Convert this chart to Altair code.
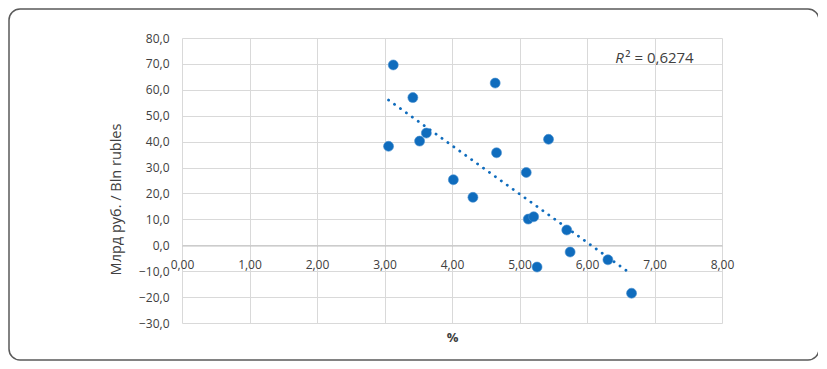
import altair as alt
import pandas as pd

# Scatter values (x = %, y = bln rubles)
x_pct = [3.13, 3.42, 3.06, 3.52, 3.62, 4.64, 4.66, 5.43, 4.02, 5.10,
         4.31, 5.13, 5.21, 5.70, 5.75, 5.26, 6.31, 6.66]
y_bln = [69.6, 57.0, 38.2, 40.2, 43.3, 62.6, 35.7, 40.9, 25.3, 28.1,
         18.5, 10.1, 11.0, 5.9, -2.6, -8.4, -5.6, -18.5]

x_ticks = [0, 1, 2, 3, 4, 5, 6, 7, 8]
y_ticks = [-30, -20, -10, 0, 10, 20, 30, 40, 50, 60, 70, 80]
r2_text = "² = 0,6274"

df = pd.DataFrame({"x": x_pct, "y": y_bln})

BLUE = "#0f6cbd"
FONT = "Open Sans"
TXT = "#404040"

xs = alt.Scale(domain=[0, 8], nice=False, zero=False)
ys = alt.Scale(domain=[-30, 80], nice=False, zero=False)

xaxis = alt.Axis(values=x_ticks, title="%", offset=-77.5,
                 labelExpr="replace(format(datum.value, '.2f'), '.', ',')",
                 labelOverlap=False, labelFlush=False,
                 ticks=False, tickSize=0, labelPadding=14,
                 domainColor="#bfbfbf", gridColor="#d9d9d9",
                 titleY=92, titleBaseline="middle",
                 titleFontWeight="bold", titleFontSize=13, titleFont=FONT,
                 titleColor=TXT)
yaxis = alt.Axis(values=y_ticks, title="Млрд руб. / Bln rubles",
                 labelExpr="replace(format(datum.value, '.1f'), '.', ',')",
                 labelOverlap=False, labelFlush=False,
                 ticks=False, tickSize=0, labelPadding=13, domain=False,
                 gridColor="#d9d9d9",
                 titleX=-66, titleY=161, titleBaseline="middle",
                 titleFontWeight="normal", titleFontSize=14.5, titleFont=FONT,
                 titleColor=TXT)

X = alt.X("x:Q", scale=xs, axis=xaxis)
Y = alt.Y("y:Q", scale=ys, axis=yaxis)

base = alt.Chart(df)

frame = alt.Chart(pd.DataFrame({"a": [0]})).mark_rect(
    fill="transparent", stroke="#5a5a5a", strokeWidth=1.5, cornerRadius=11
).encode(
    x=alt.value(-173), x2=alt.value(637), y=alt.value(-29), y2=alt.value(322)
)

points = base.mark_circle(size=100, color=BLUE, opacity=1, stroke="#4a90d0",
                          strokeWidth=0.6).encode(x=X, y=Y)

trend = base.transform_regression("x", "y").mark_line(
    color=BLUE, strokeWidth=2.8, strokeDash=[0.1, 7.2], strokeCap="round"
).encode(x=X, y=Y)

r2_df = pd.DataFrame({"x": [6.42], "y": [72.4], "t": [r2_text]})
r_italic = alt.Chart(r2_df).mark_text(
    text="R", fontStyle="italic", align="left", baseline="middle",
    font=FONT, fontSize=15, color=TXT
).encode(x=X, y=Y)
r_rest = alt.Chart(r2_df).mark_text(
    align="left", baseline="middle", dx=10,
    font=FONT, fontSize=15, color=TXT
).encode(x=X, y=Y, text="t:N")

chart = alt.layer(frame, points, trend, r_italic, r_rest).properties(
    width=540, height=285,
    autosize=alt.AutoSizeParams(type="none"),
    padding={"left": 174, "top": 30, "right": 96, "bottom": 38},
).configure_view(stroke=None).configure_axis(
    labelFont=FONT, labelFontSize=12, labelColor=TXT, gridWidth=1
)

chart.save("out.html", embed_options={"renderer": "svg", "actions": False})
